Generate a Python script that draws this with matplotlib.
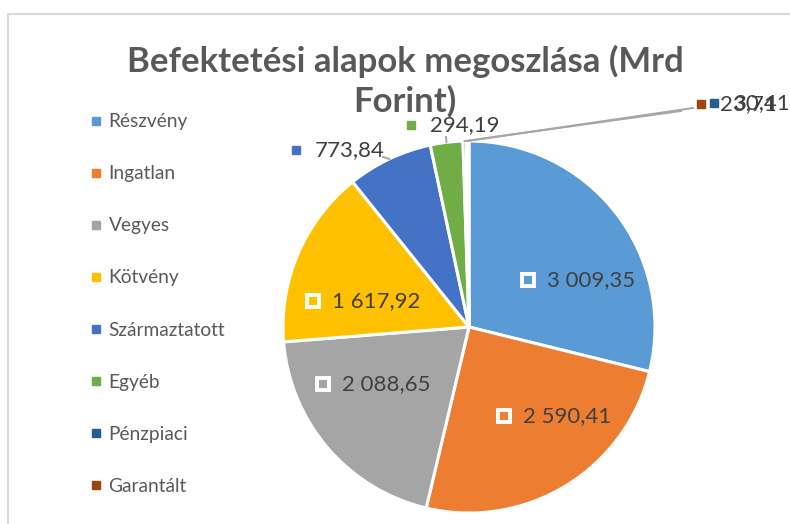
import matplotlib
matplotlib.use("Agg")
import matplotlib.pyplot as plt
from matplotlib.lines import Line2D
from matplotlib.patches import Rectangle
import numpy as np

plt.rcParams["font.family"] = ["Lato", "DejaVu Sans"]

# adatok
categories = ["Részvény", "Ingatlan", "Vegyes", "Kötvény",
              "Származtatott", "Egyéb", "Pénzpiaci", "Garantált"]
values = [3009.35, 2590.41, 2088.65, 1617.92, 773.84, 294.19, 30.41, 23.71]
colors = ["#5B9BD5", "#ED7D31", "#A5A5A5", "#FFC000",
          "#4472C4", "#70AD47", "#255E91", "#9E480E"]
title = "Befektetési alapok megoszlása (Mrd\nForint)"

# címkék helye (marker közép, pixel), belső címke-e
label_px = [(528, 280), (504, 416), (323, 384), (313, 301),
            (296, 150), (411, 125), (714, 103), (701, 104)]
inside = [True, True, True, True, False, False, False, False]
leader_end_px = {4: (383, 157), 5: (446, 137), 6: (681, 111), 7: (693, 108)}


def fmt(v):
    return f"{v:,.2f}".replace(",", " ").replace(".", ",")


W, H = 790, 524
fig = plt.figure(figsize=(W / 100, H / 100), dpi=100)
cx, cy, R = 469, 327, 186
ax = fig.add_axes([(cx - R) / W, (H - cy - R) / H, 2 * R / W, 2 * R / H])

wedges, _ = ax.pie(values, colors=colors, startangle=90, counterclock=False,
                   wedgeprops=dict(edgecolor="white", linewidth=2.2))
ax.set_xlim(-1, 1)
ax.set_ylim(-1, 1)


def to_data(p):
    return (p[0] - cx) / R, (cy - p[1]) / R


txt_col = "#404040"
for i, w in enumerate(wedges):
    mx, my = to_data(label_px[i])
    if inside[i]:
        ax.plot(mx, my, marker="s", ms=9, mfc="none", mec="white", mew=2.8,
                clip_on=False)
    else:
        ax.plot(mx, my, marker="s", ms=5.8, color=colors[i], clip_on=False)
        mid = np.deg2rad((w.theta1 + w.theta2) / 2)
        ex, ey = to_data(leader_end_px[i])
        ax.plot([np.cos(mid), ex], [np.sin(mid), ey], color="#A6A6A6",
                lw=1.4, clip_on=False, zorder=1)
    ax.text(mx + 19 / R, my, fmt(values[i]), fontsize=16, color=txt_col,
            ha="left", va="center", clip_on=False)

handles = [Line2D([], [], marker="s", ls="none", color=c, markersize=5.8)
           for c in colors]
fig.legend(handles, categories, loc="upper left",
           bbox_to_anchor=(73 / W, 1 - 96 / H), frameon=False,
           fontsize=13.8, labelcolor="#595959", labelspacing=1.83,
           handlelength=0.6, handletextpad=0.35)

fig.text(405 / W, 1 - 81 / H, title, ha="center", va="center",
         fontsize=25, fontweight="bold", color="#595959", linespacing=1.25)

fig.patches.append(Rectangle((8 / W, -0.1), 1.2, 1.1 - 14 / H,
                             transform=fig.transFigure, fill=False,
                             ec="#D9D9D9", lw=1.5))

fig.savefig("out.png", dpi=100)
